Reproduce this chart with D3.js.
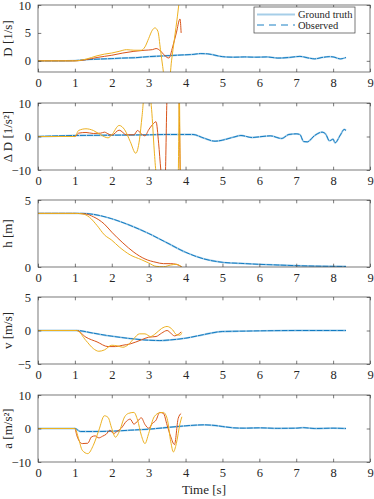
<!DOCTYPE html>
<head>
  <meta charset="utf-8">
  <title>Trajectory estimates</title>
  <style>
    body { margin: 0; background: #fff; }
    text { font-family: "Liberation Serif", "Times New Roman", Times, serif; fill: #262626; }
  </style>
</head>
<body>
<script src="https://d3js.org/d3.v7.min.js"></script>
<script>
// x ticks shared by all panels
const timeTicks = [0, 1, 2, 3, 4, 5, 6, 7, 8, 9];

// --- D [1/s]
const tD_blue = [0,0.5,1.0,1.3,1.6,2.0,2.3,2.6,3.0,3.3,3.6,3.9,4.2,4.4,4.6,4.8,5.0,5.3,5.6,5.9,6.2,6.5,6.8,7.0,7.1,7.3,7.5,7.7,7.9,8.0,8.2,8.35];
const D_blue = [0,0,0.05,0.2,0.3,0.4,0.5,0.55,0.75,0.85,0.95,1.05,1.15,1.3,1.25,1.0,0.75,0.65,0.7,0.65,0.7,0.5,0.6,0.75,0.8,0.55,0.35,0.6,0.75,0.7,0.35,0.6];
const tD_orange = [0,1.0,1.3,1.6,2.0,2.3,2.6,2.9,3.1,3.2,3.3,3.4,3.5,3.55,3.65,3.75,3.85,3.88];
const D_orange = [0,0,0.2,0.6,1.0,1.4,1.7,1.9,2.0,2.2,1.9,1.2,0.6,0.5,2.5,5,7.5,5];
const tD_yellow = [0,1.0,1.3,1.6,1.8,2.0,2.2,2.4,2.6,2.8,2.9,3.0,3.1,3.17,3.25,3.32,3.38,3.45,3.55,3.62,3.7,3.78,3.85];
const D_yellow = [0,0,0.3,0.9,1.2,1.4,1.7,2.0,1.9,1.9,2.5,4.0,5.5,5.9,5.3,2.0,-1,-4,-4,0,4,8,12];

// --- Delta D [1/s^2]
const tDD_blue = [0,1.0,1.5,2.0,2.5,3.0,3.5,4.0,4.2,4.5,4.8,5.0,5.3,5.5,5.8,6.0,6.3,6.6,6.8,7.0,7.1,7.2,7.3,7.5,7.7,7.8,7.9,8.0,8.05,8.2,8.3,8.35];
const DD_blue = [0,0.3,0.35,0.4,0.45,0.5,0.6,0.6,0.6,-0.5,-1.4,-1.1,-0.2,0.3,-0.3,-0.1,0.2,-0.6,0.6,0.8,0.6,-1.5,-1.6,0.3,1.3,0.7,-1.3,-0.8,-1.9,0.5,2.1,1.8];
const tDD_orange = [0,1.0,1.1,1.3,1.5,1.7,1.8,1.9,2.0,2.2,2.4,2.6,2.7,2.8,2.9,3.0,3.1,3.2,3.27,3.33,3.4,3.45,3.5,3.6,3.75,3.82,3.86,3.9];
const DD_orange = [0,0,1.0,1.2,0.9,1.0,1.3,0.8,0.4,1.9,0.5,0.5,1.8,0.8,0.2,2.0,3.5,4.4,-2,-10,-16,-12,12,18,18,12,-12,-18];
const tDD_yellow = [0,1.0,1.1,1.3,1.5,1.7,1.9,2.0,2.2,2.35,2.5,2.65,2.75,2.82,2.9,3.0,3.08,3.15,3.2,3.3,3.5,3.7,3.8,3.83,3.86,3.9];
const DD_yellow = [0,0,1.8,2.3,1.8,0.5,-0.4,0.5,3.3,2.0,-1.5,-5,-1,6,14,14,8,-4,-11,-16,-16,-12,-12,14,-14,-18];

// --- h [m]
const th_blue = [0,1.0,1.2,1.5,2.0,2.5,3.0,3.5,4.0,4.5,5.0,5.5,6.0,6.5,7.0,7.5,8.0,8.35];
const h_blue = [4,4,4,3.93,3.6,3.1,2.5,1.8,1.1,0.6,0.35,0.27,0.2,0.15,0.1,0.07,0.05,0.04];
const th_orange = [0,1.0,1.3,1.5,1.8,2.0,2.3,2.6,2.9,3.2,3.4,3.6,3.75,3.9];
const h_orange = [4,4,3.95,3.75,3.2,2.6,1.8,1.1,0.6,0.35,0.25,0.25,0.2,0.0];
const th_yellow = [0,1.0,1.2,1.4,1.6,1.8,2.0,2.2,2.5,2.8,3.0,3.2,3.4,3.6,3.75,3.9];
const h_yellow = [4,4,3.97,3.7,3.1,2.4,2.0,1.5,0.9,0.55,0.3,0.05,0.02,0.15,0.2,0.0];

// --- v [m/s]
const tv_blue = [0,1.05,1.5,2.0,2.5,3.0,3.3,3.6,4.0,4.5,5.0,5.5,6.0,7.0,8.35];
const v_blue = [0,0,-0.4,-0.85,-1.2,-1.45,-1.5,-1.4,-1.15,-0.6,-0.15,-0.1,-0.05,0,0];
const tv_orange = [0,1.05,1.3,1.6,1.9,2.1,2.3,2.5,2.8,3.0,3.2,3.35,3.5,3.6,3.7,3.8,3.88];
const v_orange = [0,0,-1.0,-1.7,-2.4,-2.4,-2.2,-2.0,-1.4,-1.0,-0.9,-0.4,0.0,-0.4,-0.8,-0.6,-0.2];
const tv_yellow = [0,1.05,1.3,1.5,1.65,1.8,2.0,2.15,2.3,2.45,2.6,2.75,2.9,3.05,3.2,3.35,3.5,3.65,3.75,3.85,3.9];
const v_yellow = [0,0,-1.5,-2.7,-3.1,-2.9,-2.2,-2.3,-2.5,-2.1,-1.2,-0.5,-0.5,-0.9,-0.4,0.3,0.6,0.1,-0.6,-0.7,-0.3];

// --- a [m/s^2]
const ta_blue = [0,1.0,1.15,1.5,2.0,2.5,3.0,3.5,4.0,4.5,4.8,5.0,5.3,5.6,6.0,6.5,7.0,7.2,7.5,8.0,8.35];
const a_blue = [0,0,-0.9,-0.9,-0.8,-0.5,-0.2,0.3,0.8,1.1,0.9,0.6,0.2,0.1,0.2,0.05,0.1,0.25,0,0.1,0];
const ta_orange = [0,1.0,1.05,1.2,1.35,1.45,1.55,1.65,1.75,1.85,1.95,2.05,2.15,2.25,2.4,2.5,2.6,2.7,2.8,2.9,3.0,3.1,3.2,3.3,3.4,3.5,3.6,3.7,3.8,3.88];
const a_orange = [0,0,-2,-4.5,-4.4,-2.5,-2.2,-2.8,-2.3,-1.7,-0.5,-1.5,-0.8,0.0,2.2,2.8,1.3,2.2,3.2,1.2,0.1,1.5,2.5,4.8,4.5,1.0,-2.5,-4.8,3.0,4.5];
const ta_yellow = [0,1.0,1.1,1.2,1.35,1.5,1.65,1.8,1.9,2.0,2.1,2.2,2.35,2.45,2.6,2.7,2.8,2.9,3.0,3.15,3.3,3.4,3.5,3.6,3.67,3.75,3.85,3.9];
const a_yellow = [0,0,-3,-6.5,-7.5,-5,-0.5,3.8,3.3,0,-2.6,-1,3.5,4.5,4.8,2.5,-2,-4.5,-1.5,3.5,4.7,4.8,3.0,-4,-7,-4.5,1.5,3.5];

const panels = [
  {label: "D [1/s]", domain: [-2, 10], ticks: [0, 5, 10], top: 5,
   blue: [tD_blue, D_blue], orange: [tD_orange, D_orange], yellow: [tD_yellow, D_yellow]},
  {label: "Δ D [1/s²]", domain: [-10, 10], ticks: [-10, 0, 10], top: 103,
   blue: [tDD_blue, DD_blue], orange: [tDD_orange, DD_orange], yellow: [tDD_yellow, DD_yellow]},
  {label: "h [m]", domain: [0, 5], ticks: [0, 5], top: 200,
   blue: [th_blue, h_blue], orange: [th_orange, h_orange], yellow: [th_yellow, h_yellow]},
  {label: "v [m/s]", domain: [-5, 5], ticks: [-5, 0, 5], top: 297,
   blue: [tv_blue, v_blue], orange: [tv_orange, v_orange], yellow: [tv_yellow, v_yellow]},
  {label: "a [m/s²]", domain: [-10, 10], ticks: [-10, 0, 10], top: 395,
   blue: [ta_blue, a_blue], orange: [ta_orange, a_orange], yellow: [ta_yellow, a_yellow]}
];

const W = 374, H = 499;
const left = 38, right = 370, ph = 67, tl = 3.3;
const axisColor = "#404040";
const serif = "'Liberation Serif', 'Times New Roman', Times, serif";

const svg = d3.select("body").append("svg")
  .attr("width", W).attr("height", H)
  .attr("font-family", serif);

const x = d3.scaleLinear().domain([0, 9]).range([left, right]);

const zip = (t, v) => t.map((d, i) => [d, v[i]]);

panels.forEach((p, i) => {
  const y = d3.scaleLinear().domain(p.domain).range([p.top + ph, p.top]);
  const g = svg.append("g");

  g.append("clipPath").attr("id", "clip" + i)
    .append("rect").attr("x", left).attr("y", p.top)
    .attr("width", right - left).attr("height", ph);

  const line = d3.line().x(d => x(d[0])).y(d => y(d[1])).curve(d3.curveMonotoneX);
  const plot = g.append("g").attr("clip-path", `url(#clip${i})`);

  // ground truth (light, wide) then observed (dashed) on top
  plot.append("path").datum(zip(...p.blue)).attr("d", line)
    .attr("fill", "none").attr("stroke", "#0072BD").attr("stroke-opacity", 0.35).attr("stroke-width", 1.8);
  plot.append("path").datum(zip(...p.blue)).attr("d", line)
    .attr("fill", "none").attr("stroke", "#0072BD").attr("stroke-width", 0.9).attr("stroke-dasharray", "6,1");
  plot.append("path").datum(zip(...p.orange)).attr("d", line)
    .attr("fill", "none").attr("stroke", "#D95319").attr("stroke-width", 1);
  plot.append("path").datum(zip(...p.yellow)).attr("d", line)
    .attr("fill", "none").attr("stroke", "#EDB120").attr("stroke-width", 1);

  // box
  g.append("rect").attr("x", left).attr("y", p.top)
    .attr("width", right - left).attr("height", ph)
    .attr("fill", "none").attr("stroke", axisColor).attr("stroke-width", 0.7);

  // inward ticks, bottom/top and left/right
  const fmt = d3.format("d");
  const xb = d3.axisBottom(x).tickValues(timeTicks).tickFormat(fmt).tickSizeInner(-tl).tickSizeOuter(0).tickPadding(6);
  const xt = d3.axisTop(x).tickValues(timeTicks).tickSizeInner(-tl).tickSizeOuter(0).tickFormat("");
  const yl = d3.axisLeft(y).tickValues(p.ticks).tickFormat(fmt).tickSizeInner(-tl).tickSizeOuter(0).tickPadding(7);
  const yr = d3.axisRight(y).tickValues(p.ticks).tickSizeInner(-tl).tickSizeOuter(0).tickFormat("");

  [[xb, `translate(0,${p.top + ph})`], [xt, `translate(0,${p.top})`],
   [yl, `translate(${left},0)`], [yr, `translate(${right},0)`]].forEach(([ax, tr]) => {
    const a = g.append("g").attr("transform", tr).call(ax)
      .attr("font-family", serif).attr("font-size", 12.5);
    a.select(".domain").remove();
    a.selectAll("line").attr("stroke", axisColor).attr("stroke-width", 0.7);
    a.selectAll("text").attr("fill", "#262626");
  });

  g.append("text")
    .attr("transform", `translate(12,${p.top + ph / 2}) rotate(-90)`)
    .attr("text-anchor", "middle").attr("font-size", 13)
    .text(p.label);
});

svg.append("text").attr("x", (left + right) / 2).attr("y", 494)
  .attr("text-anchor", "middle").attr("font-size", 13).text("Time [s]");

// legend
const lg = svg.append("g");
lg.append("rect").attr("x", 254).attr("y", 7).attr("width", 101).attr("height", 26)
  .attr("fill", "#fff").attr("stroke", axisColor).attr("stroke-width", 0.7);
lg.append("line").attr("x1", 257).attr("x2", 295).attr("y1", 14.5).attr("y2", 14.5)
  .attr("stroke", "#0072BD").attr("stroke-opacity", 0.35).attr("stroke-width", 1.8);
lg.append("line").attr("x1", 257).attr("x2", 295).attr("y1", 25).attr("y2", 25)
  .attr("stroke", "#0072BD").attr("stroke-width", 0.9).attr("stroke-dasharray", "7,5");
lg.append("text").attr("x", 298).attr("y", 18).attr("font-size", 10.5).text("Ground truth");
lg.append("text").attr("x", 298).attr("y", 28.5).attr("font-size", 10.5).text("Observed");
</script>
</body>
</html>
